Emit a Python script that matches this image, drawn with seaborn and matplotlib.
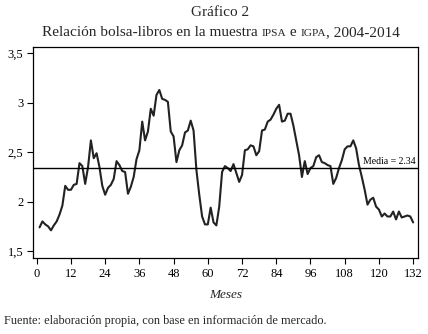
import numpy as np
import pandas as pd
import matplotlib
matplotlib.use("Agg")
import matplotlib.pyplot as plt
import seaborn as sns

months = list(range(1, 133))
ratio = [
    1.74, 1.80, 1.77, 1.75, 1.71, 1.76, 1.80, 1.87, 1.96, 2.16,
    2.12, 2.12, 2.17, 2.18, 2.39, 2.36, 2.18, 2.35, 2.62, 2.44,
    2.49, 2.35, 2.16, 2.07, 2.14, 2.17, 2.23, 2.41, 2.37, 2.31,
    2.30, 2.08, 2.15, 2.25, 2.43, 2.52, 2.81, 2.62, 2.71, 2.94,
    2.87, 3.08, 3.13, 3.04, 3.03, 3.01, 2.71, 2.66, 2.40, 2.52,
    2.57, 2.70, 2.72, 2.82, 2.72, 2.32, 2.07, 1.85, 1.77, 1.77,
    1.94, 1.79, 1.76, 1.95, 2.30, 2.36, 2.34, 2.31, 2.38, 2.29,
    2.20, 2.27, 2.52, 2.53, 2.57, 2.56, 2.47, 2.51, 2.72, 2.73,
    2.81, 2.83, 2.88, 2.94, 2.98, 2.81, 2.82, 2.89, 2.89, 2.77,
    2.62, 2.47, 2.25, 2.41, 2.28, 2.34, 2.36, 2.45, 2.47, 2.40,
    2.39, 2.37, 2.36, 2.18, 2.24, 2.34, 2.42, 2.53, 2.56, 2.56,
    2.62, 2.54, 2.37, 2.25, 2.12, 1.97, 2.02, 2.04, 1.95, 1.92,
    1.85, 1.88, 1.85, 1.85, 1.90, 1.82, 1.90, 1.84, 1.85, 1.86,
    1.85, 1.79,
]
mean_value = 2.34
x_ticks = list(range(0, 133, 12))
y_ticks = [1.5, 2.0, 2.5, 3.0, 3.5]
y_tick_labels = ["1,5", "2", "2,5", "3", "3,5"]

sns.set_style("ticks")
plt.rcParams["font.family"] = ["Liberation Serif", "DejaVu Serif"]

df = pd.DataFrame({"Meses": months, "Relación": ratio})

fig = plt.figure(figsize=(4.28, 3.34), dpi=100)
ax = fig.add_axes([33 / 428, 1 - 258 / 334, (418 - 33) / 428, (258 - 47) / 334])

sns.lineplot(data=df, x="Meses", y="Relación", ax=ax, color="#222222", linewidth=1.5)
ax.axhline(mean_value, color="black", linewidth=1.0)

ax.set_xlim(-1.3, 133.7)
ax.set_ylim(1.43, 3.565)
ax.set_xticks(x_ticks)
ax.set_xticklabels([str(t) for t in x_ticks])
ax.set_yticks(y_ticks)
ax.set_yticklabels(y_tick_labels)
ax.tick_params(axis="both", direction="out", length=4, width=0.8, labelsize=9, colors="black", pad=3)
for s in ax.spines.values():
    s.set_color("black")
    s.set_linewidth(0.9)
ax.set_ylabel("")
ax.set_xlabel("Meses", fontsize=9.5, style="italic", labelpad=7)

ax.text(114.5, mean_value + 0.02, "Media = 2.34", fontsize=7, ha="left", va="bottom", color="black")

fig.text(0.514, 1 - 13 / 334, "Gráfico 2", ha="center", va="center", fontsize=11)

# subtitle with small caps segments
segments = [
    ("Relación bolsa-libros en la muestra ", 11),
    ("IPSA", 8.2),
    (" e ", 11),
    ("IGPA", 8.2),
    (", 2004-2014", 11),
]
fig.canvas.draw()
renderer = fig.canvas.get_renderer()
texts = []
widths = []
for s, fs in segments:
    t = fig.text(0, 1 - 36 / 334, s, fontsize=fs, ha="left", va="baseline")
    bb = t.get_window_extent(renderer=renderer)
    texts.append(t)
    widths.append(bb.width)
total = sum(widths)
start = (221 - total / 2)
cur = start
for t, w in zip(texts, widths):
    t.set_x(cur / 428)
    cur += w

fig.text(4 / 428, 1 - 321 / 334, "Fuente: elaboración propia, con base en información de mercado.",
         ha="left", va="center", fontsize=8.8)

fig.savefig("out.png", dpi=100)
